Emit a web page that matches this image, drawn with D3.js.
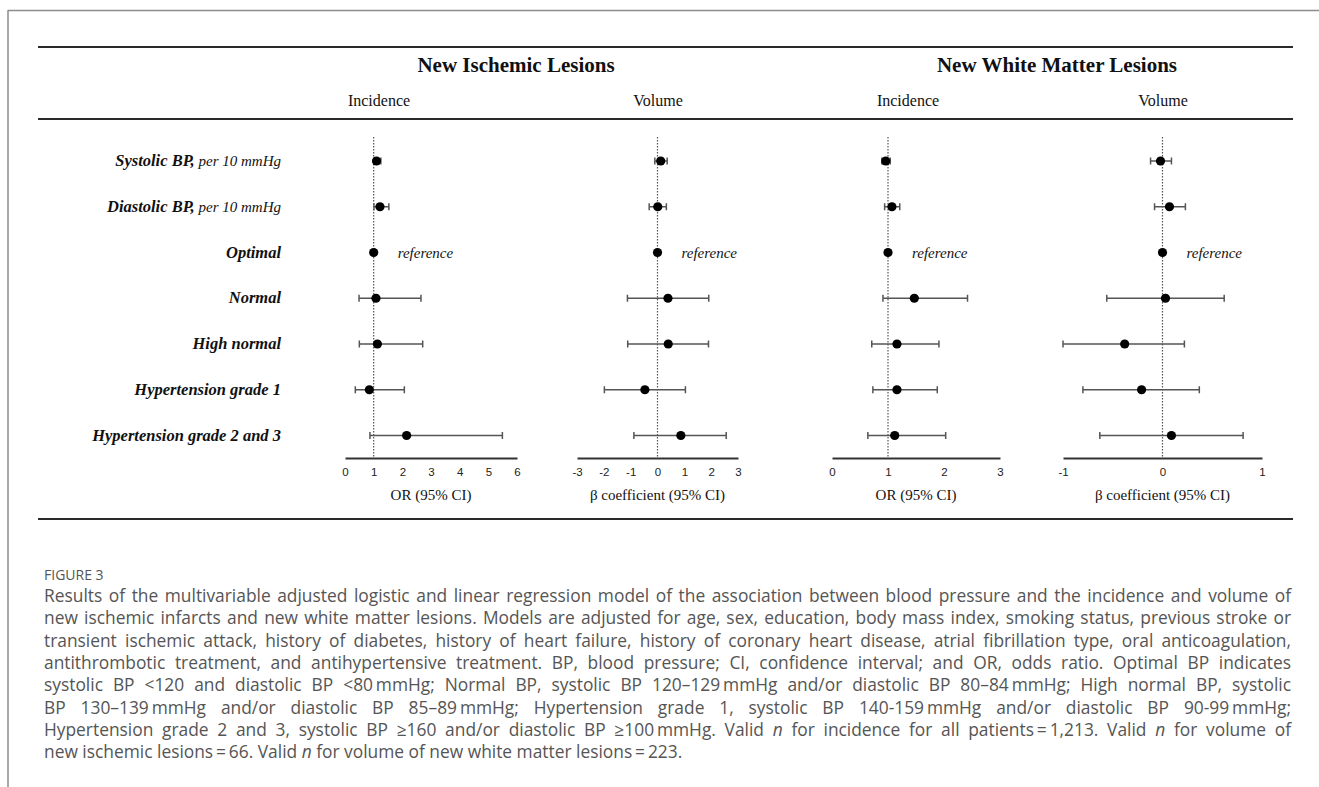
<!DOCTYPE html>
<html>
<head>
<meta charset="utf-8">
<script src="https://cdn.jsdelivr.net/npm/d3@7"></script>
<style>
  html, body { margin: 0; padding: 0; background: #fff; }
  svg { display: block; }
</style>
</head>
<body>
<script>
// ---------------- DATA ----------------
const categories = [
  "Systolic BP,", "Diastolic BP,", "Optimal", "Normal",
  "High normal", "Hypertension grade 1", "Hypertension grade 2 and 3"
];
const categoryNotes = ["per 10 mmHg", "per 10 mmHg", "", "", "", "", ""];
const isReference = [false, false, true, false, false, false, false];

const groupTitles = ["New Ischemic Lesions", "New White Matter Lesions"];
const panelHeaders = ["Incidence", "Volume", "Incidence", "Volume"];
const axisTitles = ["OR (95% CI)", "\u03B2 coefficient (95% CI)", "OR (95% CI)", "\u03B2 coefficient (95% CI)"];

const ticks1 = [0, 1, 2, 3, 4, 5, 6];
const ticks2 = [-3, -2, -1, 0, 1, 2, 3];
const ticks3 = [0, 1, 2, 3];
const ticks4 = [-1, 0, 1];
const nullValues = [1, 0, 1, 0];

// New ischemic lesions – incidence (OR)
const ischIncEst = [1.10, 1.22, 1, 1.08, 1.13, 0.85, 2.15];
const ischIncLo  = [1.00, 1.01, null, 0.49, 0.50, 0.36, 0.87];
const ischIncHi  = [1.25, 1.53, null, 2.65, 2.71, 2.07, 5.49];
// New ischemic lesions – volume (beta)
const ischVolEst = [0.12, 0.01, 0, 0.39, 0.40, -0.47, 0.87];
const ischVolLo  = [-0.10, -0.31, null, -1.12, -1.11, -1.98, -0.88];
const ischVolHi  = [0.36, 0.33, null, 1.91, 1.90, 1.04, 2.56];
// New white matter lesions – incidence (OR)
const wmIncEst = [0.96, 1.07, 1, 1.47, 1.16, 1.16, 1.12];
const wmIncLo  = [0.89, 0.94, null, 0.91, 0.71, 0.73, 0.64];
const wmIncHi  = [1.04, 1.21, null, 2.42, 1.91, 1.88, 2.03];
// New white matter lesions – volume (beta)
const wmVolEst = [-0.02, 0.07, 0, 0.03, -0.38, -0.21, 0.09];
const wmVolLo  = [-0.12, -0.08, null, -0.56, -1.00, -0.80, -0.63];
const wmVolHi  = [0.09, 0.23, null, 0.62, 0.22, 0.37, 0.81];

const captionLabel = "FIGURE 3";
const captionLines = [
  "Results of the multivariable adjusted logistic and linear regression model of the association between blood pressure and the incidence and volume of",
  "new ischemic infarcts and new white matter lesions. Models are adjusted for age, sex, education, body mass index, smoking status, previous stroke or",
  "transient ischemic attack, history of diabetes, history of heart failure, history of coronary heart disease, atrial fibrillation type, oral anticoagulation,",
  "antithrombotic treatment, and antihypertensive treatment. BP, blood pressure; CI, confidence interval; and OR, odds ratio. Optimal BP indicates",
  "systolic BP <120 and diastolic BP <80\u2009mmHg; Normal BP, systolic BP 120\u2013129\u2009mmHg and/or diastolic BP 80\u201384\u2009mmHg; High normal BP, systolic",
  "BP 130\u2013139\u2009mmHg and/or diastolic BP 85\u201389\u2009mmHg; Hypertension grade 1, systolic BP 140-159\u2009mmHg and/or diastolic BP 90-99\u2009mmHg;",
  "Hypertension grade 2 and 3, systolic BP \u2265160 and/or diastolic BP \u2265100\u2009mmHg. Valid *n* for incidence for all patients\u2009=\u20091,213. Valid *n* for volume of",
  "new ischemic lesions\u2009=\u200966. Valid *n* for volume of new white matter lesions\u2009=\u2009223."
];

// ---------------- LAYOUT ----------------
const W = 1319, H = 787;
const svg = d3.select("body").append("svg").attr("width", W).attr("height", H);
const serif = "'Liberation Serif', 'Times New Roman', serif";
const sans = "'Liberation Sans', Arial, sans-serif";

// outer figure frame (top + left edge)
svg.append("line").attr("x1", 8).attr("x2", W).attr("y1", 10.5).attr("y2", 10.5)
  .attr("stroke", "#8c8c8c").attr("stroke-width", 1.5);
svg.append("line").attr("x1", 8).attr("x2", 8).attr("y1", 10).attr("y2", H)
  .attr("stroke", "#8c8c8c").attr("stroke-width", 1.5);

// table rules
[47, 119, 519].forEach(y => {
  svg.append("line").attr("x1", 38).attr("x2", 1293).attr("y1", y).attr("y2", y)
    .attr("stroke", "#2a2a2a").attr("stroke-width", 2.2);
});

// group titles
const groupX = [516, 1057];
groupTitles.forEach((t, i) => {
  svg.append("text").attr("x", groupX[i]).attr("y", 72).attr("text-anchor", "middle")
    .attr("font-family", serif).attr("font-weight", "bold").attr("font-size", 21)
    .attr("fill", "#111").text(t);
});

const y = d3.scalePoint().domain(categories).range([161, 435.5]);

// row labels
categories.forEach((c, i) => {
  const t = svg.append("text").attr("x", 281).attr("y", y(c) + 5).attr("text-anchor", "end")
    .attr("font-family", serif).attr("fill", "#111");
  t.append("tspan").attr("font-weight", "bold").attr("font-style", "italic")
    .attr("font-size", 16.5).text(c);
  if (categoryNotes[i]) {
    t.append("tspan").attr("font-style", "italic").attr("font-size", 15).text(" " + categoryNotes[i]);
  }
});

const panels = [
  { domain: [0, 6], range: [345, 517], ticks: ticks1, est: ischIncEst, lo: ischIncLo, hi: ischIncHi, hx: 379 },
  { domain: [-3, 3], range: [577, 738], ticks: ticks2, est: ischVolEst, lo: ischVolLo, hi: ischVolHi, hx: 658 },
  { domain: [0, 3], range: [832, 1000], ticks: ticks3, est: wmIncEst, lo: wmIncLo, hi: wmIncHi, hx: 908 },
  { domain: [-1, 1], range: [1063, 1262], ticks: ticks4, est: wmVolEst, lo: wmVolLo, hi: wmVolHi, hx: 1163 }
];

const axisY = 458;
panels.forEach((p, pi) => {
  const x = d3.scaleLinear().domain(p.domain).range(p.range);
  const g = svg.append("g");

  g.append("text").attr("x", p.hx).attr("y", 106).attr("text-anchor", "middle")
    .attr("font-family", serif).attr("font-size", 16).attr("fill", "#111").text(panelHeaders[pi]);

  g.append("line").attr("x1", x(nullValues[pi])).attr("x2", x(nullValues[pi]))
    .attr("y1", 137).attr("y2", axisY)
    .attr("stroke", "#555").attr("stroke-width", 1.2).attr("stroke-dasharray", "1.5,1.5");

  const axis = d3.axisBottom(x).tickValues(p.ticks).tickSize(0).tickPadding(10)
    .tickFormat(d3.format("d"));
  const ag = g.append("g").attr("transform", `translate(0,${axisY})`).call(axis);
  ag.select(".domain").attr("stroke", "#333").attr("stroke-width", 2);
  ag.selectAll("text").attr("font-family", sans).attr("font-size", 11.5).attr("fill", "#222")
    .text(d => d < 0 ? "-" + Math.abs(d) : d);

  g.append("text").attr("x", (p.range[0] + p.range[1]) / 2).attr("y", 500)
    .attr("text-anchor", "middle").attr("font-family", serif).attr("font-size", 15)
    .attr("fill", "#111").text(axisTitles[pi]);

  categories.forEach((c, i) => {
    const cy = y(c);
    if (p.lo[i] !== null) {
      g.append("line").attr("x1", x(p.lo[i])).attr("x2", x(p.hi[i])).attr("y1", cy).attr("y2", cy)
        .attr("stroke", "#555").attr("stroke-width", 1.5);
      [p.lo[i], p.hi[i]].forEach(v => {
        g.append("line").attr("x1", x(v)).attr("x2", x(v)).attr("y1", cy - 3.5).attr("y2", cy + 3.5)
          .attr("stroke", "#555").attr("stroke-width", 1.5);
      });
    }
    g.append("circle").attr("cx", x(p.est[i])).attr("cy", cy).attr("r", 4.6).attr("fill", "#000");
    if (isReference[i]) {
      g.append("text").attr("x", x(p.est[i]) + 24).attr("y", cy + 5)
        .attr("font-family", serif).attr("font-style", "italic").attr("font-size", 15)
        .attr("fill", "#111").text("reference");
    }
  });
});

// ---------------- CAPTION ----------------
const capFont = "'Open Sans', 'Noto Sans', sans-serif";
svg.append("text").attr("x", 44).attr("y", 580).attr("font-family", capFont)
  .attr("font-size", 14).attr("fill", "#555").text(captionLabel);

const capLeft = 44, capRight = 1291, lastLineEnd = 734;
const baseSize = 16;
const capNodes = captionLines.map((line, i) => {
  const t = svg.append("text").attr("x", capLeft).attr("y", 602 + i * 22.3)
    .attr("font-family", capFont).attr("font-size", baseSize).attr("fill", "#555");
  line.split("*").forEach((part, k) => {
    if (!part) return;
    const ts = t.append("tspan").text(part);
    if (k % 2 === 1) ts.attr("font-style", "italic");
  });
  return t;
});
// choose a size so the last line ends near the reference, while every justified line still fits
const widths = capNodes.map(t => t.node().getComputedTextLength());
const maxJust = d3.max(widths.slice(0, -1));
const sizeFit = baseSize * (capRight - capLeft) * 0.97 / maxJust;
const sizeLast = baseSize * (lastLineEnd - capLeft) / widths[widths.length - 1];
const capSize = Math.min(sizeFit, sizeLast);
capNodes.forEach(t => t.attr("font-size", capSize));
capNodes.forEach((t, i) => {
  if (i === capNodes.length - 1) return;
  const line = captionLines[i];
  const w = t.node().getComputedTextLength();
  const spaces = (line.match(/ /g) || []).length;
  if (spaces > 0) t.attr("word-spacing", Math.max(0, (capRight - capLeft - w) / spaces));
});
</script>
</body>
</html>
